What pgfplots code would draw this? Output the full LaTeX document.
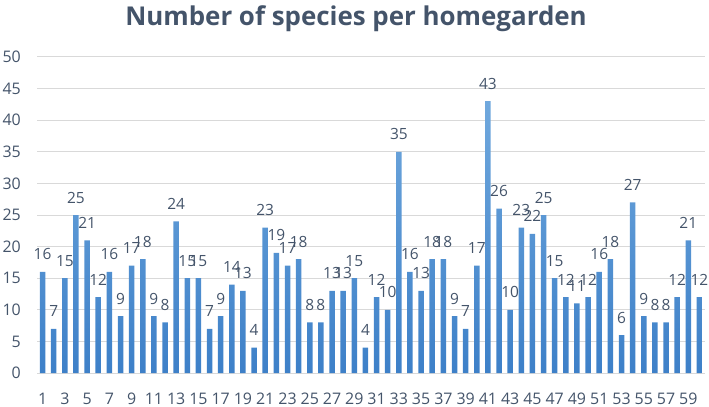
\documentclass[border=0pt]{standalone}
\usepackage{fontspec}
\setmainfont{Open Sans}
\usepackage{pgfplots}
\pgfplotsset{compat=1.18}
\definecolor{txt}{HTML}{44546A}
\definecolor{gridc}{HTML}{D9D9D9}
\definecolor{bartop}{HTML}{70A8DD}
\definecolor{barbot}{HTML}{3D80C8}
\begin{document}
\begin{tikzpicture}[x=1bp,y=1bp]
\path[use as bounding box] (0,0) rectangle (709,406);
\node[font=\fontsize{26}{30}\selectfont\bfseries, text=txt, anchor=base] at (356,381) {Number of species per homegarden};
\begin{axis}[
  at={(37bp,33bp)}, anchor=south west,
  scale only axis, width=668bp, height=316bp,
  xmin=0.5, xmax=60.5, ymin=0, ymax=50,
  xtick={1,3,...,59}, ytick={0,5,...,50},
  major tick length=0pt,
  axis line style={draw=none},
  ymajorgrids, grid style={gridc, line width=1bp},
  tick label style={font=\fontsize{16}{19}\selectfont, text=txt},
  yticklabel style={anchor=east, inner sep=0pt, xshift=-16bp},
  xticklabel style={anchor=north, inner sep=0pt, yshift=-20bp},
  /pgf/number format/assume math mode=true,
  ybar, bar width=5.5bp, bar shift=0pt,
  nodes near coords,
  every node near coord/.append style={font=\fontsize{15.5}{18}\selectfont, text=txt, anchor=base, inner sep=0pt, yshift=12bp},
]
\addplot[draw=none, top color=bartop, bottom color=barbot] coordinates {
(1,16) (2,7) (3,15) (4,25) (5,21) (6,12) (7,16) (8,9) (9,17) (10,18)
(11,9) (12,8) (13,24) (14,15) (15,15) (16,7) (17,9) (18,14) (19,13) (20,4)
(21,23) (22,19) (23,17) (24,18) (25,8) (26,8) (27,13) (28,13) (29,15) (30,4)
(31,12) (32,10) (33,35) (34,16) (35,13) (36,18) (37,18) (38,9) (39,7) (40,17)
(41,43) (42,26) (43,10) (44,23) (45,22) (46,25) (47,15) (48,12) (49,11) (50,12)
(51,16) (52,18) (53,6) (54,27) (55,9) (56,8) (57,8) (58,12) (59,21) (60,12)
};
\end{axis}
\end{tikzpicture}
\end{document}
